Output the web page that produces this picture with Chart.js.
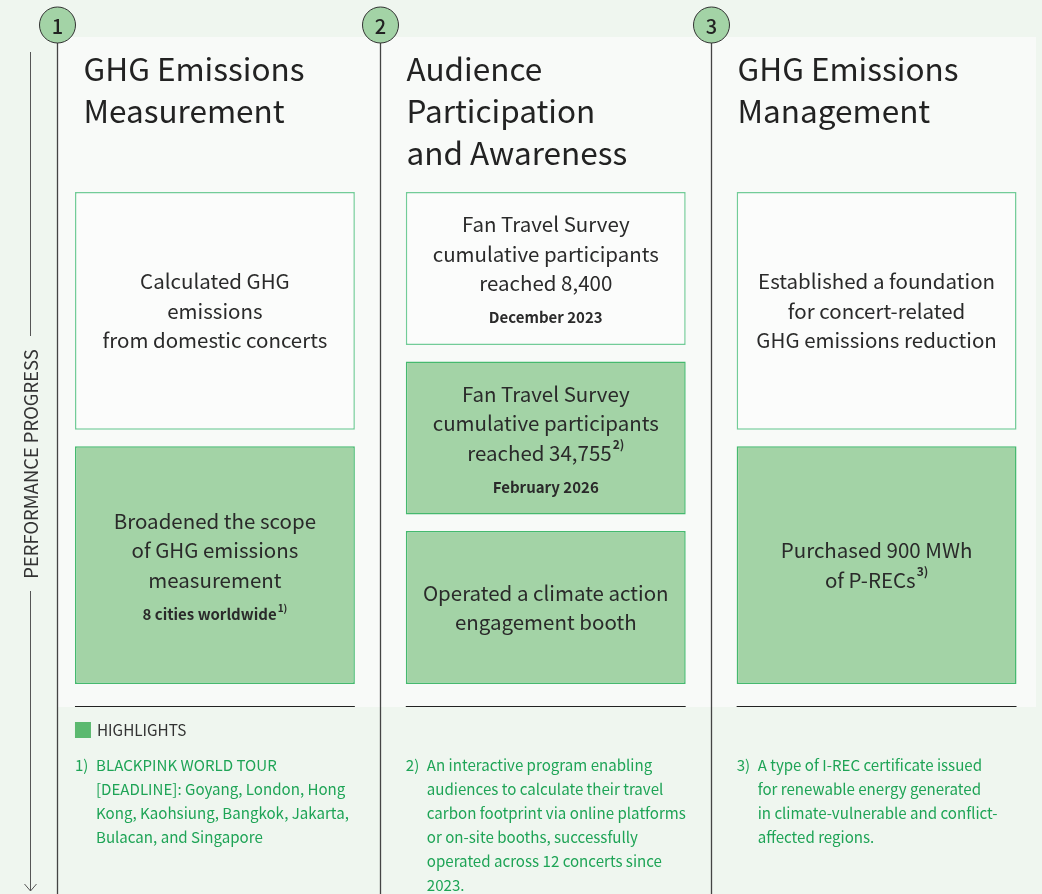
<!DOCTYPE html>
<html><head><meta charset="utf-8">
<script src="https://cdn.jsdelivr.net/npm/chart.js@4.4.1/dist/chart.umd.min.js"></script>
<style>html,body{margin:0;padding:0;background:#eff6ef;overflow:hidden}#wrap{position:relative;width:1042px;height:894px}</style>
</head><body><div id="wrap"><canvas id="c" width="1042" height="894"></canvas></div>
<script>
// ---------- data ----------
const categories = ["GHG Emissions Measurement", "Audience Participation and Awareness", "GHG Emissions Management"];
const columnNumbers = ["1", "2", "3"];
const titleLines = [["GHG Emissions", "Measurement"], ["Audience", "Participation", "and Awareness"], ["GHG Emissions", "Management"]];
const stageCounts = [2, 3, 2];
const stage1Text = [["Calculated GHG", "emissions", "from domestic concerts"], ["Fan Travel Survey", "cumulative participants", "reached 8,400"], ["Established a foundation", "for concert-related", "GHG emissions reduction"]];
const stage1Note = ["", "December 2023", ""];
const stage1Status = ["base", "base", "base"];
const stage2Text = [["Broadened the scope", "of GHG emissions", "measurement"], ["Fan Travel Survey", "cumulative participants", "reached 34,755^2)"], ["Purchased 900 MWh", "of P-RECs^3)"]];
const stage2Note = ["8 cities worldwide^1)", "February 2026", ""];
const stage2Status = ["highlight", "highlight", "highlight"];
const stage3Text = [null, ["Operated a climate action", "engagement booth"], null];
const stage3Note = ["", "", ""];
const stage3Status = [null, "highlight", null];
const legendLabel = "HIGHLIGHTS";
const axisLabel = "PERFORMANCE PROGRESS";
const footnoteMarks = ["1)", "2)", "3)"];
const footnoteLines = [
  ["BLACKPINK WORLD TOUR", "[DEADLINE]: Goyang, London, Hong", "Kong, Kaohsiung, Bangkok, Jakarta,", "Bulacan, and Singapore"],
  ["An interactive program enabling", "audiences to calculate their travel", "carbon footprint via online platforms", "or on-site booths, successfully", "operated across 12 concerts since", "2023."],
  ["A type of I-REC certificate issued", "for renewable energy generated", "in climate-vulnerable and conflict-", "affected regions."]
];

// ---------- styles ----------
const FONT = '"Noto Sans CJK KR", "Noto Sans", sans-serif';
const OUTER_BG = '#eff6ef', PANEL_BG = '#f8faf8';
const BASE_FILL = '#fbfcfb', BASE_BORDER = '#72cc98';
const HL_FILL = '#a3d3a6', HL_BORDER = '#45b96e';
const NOTE_GREEN = '#1ea456';
const SPAN = 3, GAP = 0.1;

const stageTexts = [stage1Text, stage2Text, stage3Text];
const stageNotes = [stage1Note, stage2Note, stage3Note];
const stageStatus = [stage1Status, stage2Status, stage3Status];

function stageRange(col, k) {
  const n = stageCounts[col];
  if (k >= n) return null;
  const h = (SPAN - (n - 1) * GAP) / n;
  const s = k * (h + GAP);
  return [s, s + h];
}

function drawRich(ctx, text, cx, cy, font, supFont, supRise) {
  const parts = text.split('^');
  ctx.font = font;
  const w1 = ctx.measureText(parts[0]).width;
  let w2 = 0;
  if (parts[1]) { ctx.font = supFont; w2 = ctx.measureText(parts[1]).width + 1; }
  const x0 = cx - (w1 + w2) / 2;
  ctx.textAlign = 'left';
  ctx.textBaseline = 'middle';
  ctx.font = font;
  ctx.fillText(parts[0], x0, cy);
  if (parts[1]) { ctx.font = supFont; ctx.fillText(parts[1], x0 + w1 + 1, cy - supRise); }
}

const infographic = {
  id: 'infographic',
  beforeDraw(chart) {
    const ctx = chart.ctx, xs = chart.scales.x, ca = chart.chartArea;
    const catW = (ca.right - ca.left) / categories.length;
    const bw = catW * 0.846;
    ctx.save();
    ctx.fillStyle = OUTER_BG; ctx.fillRect(0, 0, chart.width, chart.height);
    const panelLeft = 57;
    ctx.fillStyle = PANEL_BG; ctx.fillRect(panelLeft, 37, 1036 - panelLeft, 707 - 37);

    // progress axis
    ctx.strokeStyle = '#555'; ctx.lineWidth = 1;
    ctx.beginPath();
    ctx.moveTo(30.5, 52); ctx.lineTo(30.5, 336);
    ctx.moveTo(30.5, 591); ctx.lineTo(30.5, 891);
    ctx.moveTo(24.5, 884); ctx.lineTo(30.5, 891); ctx.lineTo(36.5, 884);
    ctx.stroke();
    ctx.save();
    ctx.translate(31, 464); ctx.rotate(-Math.PI / 2);
    ctx.fillStyle = '#333'; ctx.font = '18.4px ' + FONT; ctx.textAlign = 'center'; ctx.textBaseline = 'middle';
    ctx.fillText(axisLabel, 0, 0);
    ctx.restore();

    categories.forEach((c, i) => {
      const cx = xs.getPixelForValue(i);
      const boxL = cx - bw / 2, boxR = cx + bw / 2;
      let lx = Math.max(cx - catW / 2, panelLeft);
      lx = Math.round(lx) + 0.5;
      // column line
      ctx.strokeStyle = '#444'; ctx.lineWidth = 1.3;
      ctx.beginPath(); ctx.moveTo(lx, 40); ctx.lineTo(lx, 894); ctx.stroke();
      // circle
      ctx.beginPath(); ctx.arc(lx, 25, 18, 0, Math.PI * 2);
      ctx.fillStyle = HL_FILL; ctx.fill();
      ctx.strokeStyle = '#333'; ctx.lineWidth = 1; ctx.stroke();
      ctx.fillStyle = '#222'; ctx.font = '500 20px ' + FONT; ctx.textAlign = 'center'; ctx.textBaseline = 'middle';
      ctx.fillText(columnNumbers[i], lx, 26);
      // title
      ctx.fillStyle = '#222'; ctx.font = '31.5px ' + FONT; ctx.textAlign = 'left'; ctx.textBaseline = 'alphabetic';
      titleLines[i].forEach((t, j) => ctx.fillText(t, lx + 26, 81 + j * 42));
      // rule
      ctx.strokeStyle = '#222'; ctx.lineWidth = 1;
      ctx.beginPath(); ctx.moveTo(boxL, 706.5); ctx.lineTo(boxR, 706.5); ctx.stroke();
      // footnotes
      ctx.fillStyle = NOTE_GREEN; ctx.font = '15.1px ' + FONT; ctx.textBaseline = 'middle'; ctx.textAlign = 'left';
      ctx.fillText(footnoteMarks[i], boxL, 765);
      footnoteLines[i].forEach((t, j) => ctx.fillText(t, boxL + 21, 765 + j * 24));
      if (i === 0) {
        ctx.fillStyle = '#5bb96f'; ctx.fillRect(boxL, 722, 16, 16);
        ctx.fillStyle = '#333'; ctx.font = '15.3px ' + FONT;
        ctx.fillText(legendLabel, boxL + 22, 730);
      }
    });
    ctx.restore();
  },
  afterDatasetsDraw(chart) {
    const ctx = chart.ctx;
    ctx.save();
    ctx.fillStyle = '#2a2a2a';
    stageTexts.forEach((texts, k) => {
      const meta = chart.getDatasetMeta(k);
      texts.forEach((lines, i) => {
        if (!lines) return;
        const el = meta.data[i];
        const p = el.getProps(['x', 'y', 'base'], true);
        const cy = (p.y + p.base) / 2;
        const note = stageNotes[k][i];
        const LH = 29.5, NOTE_OFF = 34.5;
        const span = (lines.length - 1) * LH + (note ? NOTE_OFF : 0);
        const y0 = cy - span / 2 + (note ? 2.5 : 0);
        lines.forEach((t, j) => drawRich(ctx, t, p.x, y0 + j * LH, '20.5px ' + FONT, '600 12px ' + FONT, 8));
        if (note) drawRich(ctx, note, p.x, y0 + (lines.length - 1) * LH + NOTE_OFF, 'bold 15px ' + FONT, 'bold 10px ' + FONT, 6);
      });
    });
    ctx.restore();
  }
};

const datasets = stageTexts.map((_, k) => ({
  data: categories.map((c, i) => stageRange(i, k)),
  backgroundColor: stageStatus[k].map(s => s === 'highlight' ? HL_FILL : BASE_FILL),
  borderColor: stageStatus[k].map(s => s === 'highlight' ? HL_BORDER : BASE_BORDER),
  borderWidth: 1.5,
  borderSkipped: false,
  grouped: false,
  categoryPercentage: 1,
  barPercentage: 0.846
}));

new Chart(document.getElementById('c'), {
  type: 'bar',
  data: { labels: categories, datasets },
  options: {
    responsive: false,
    devicePixelRatio: 1,
    animation: false,
    layout: { padding: { left: 49.5, right: 0, top: 192, bottom: 210 } },
    plugins: { legend: { display: false }, tooltip: { enabled: false }, title: { display: false } },
    scales: {
      x: { display: false },
      y: { display: false, min: 0, max: SPAN, reverse: true }
    }
  },
  plugins: [infographic]
});
</script></body></html>
